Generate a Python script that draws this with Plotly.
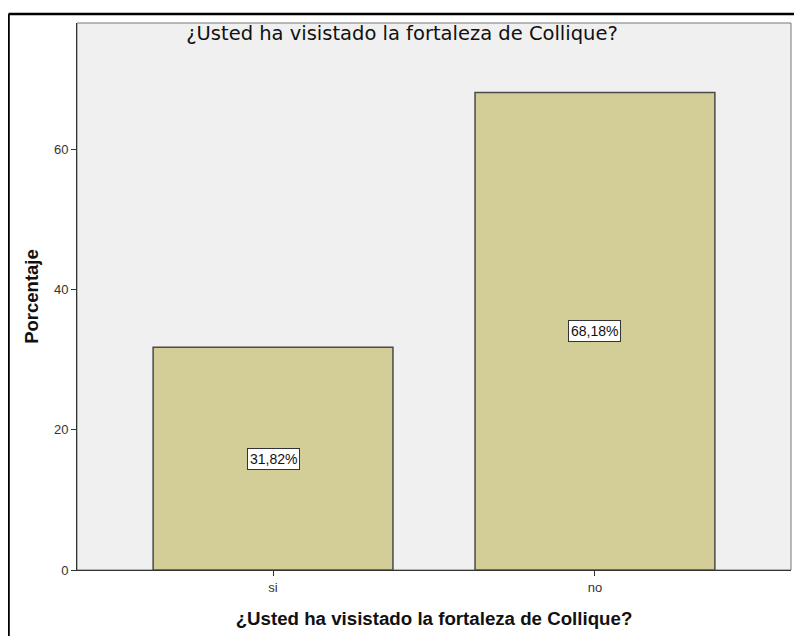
import plotly.graph_objects as go

# Data
categories = ["si", "no"]
percentages = [31.82, 68.18]
value_labels = ["31,82%", "68,18%"]
y_ticks = [0, 20, 40, 60]

question = "¿Usted ha visistado la fortaleza de Collique?"

fig = go.Figure()
fig.add_trace(go.Bar(
    x=categories,
    y=percentages,
    width=0.745,
    marker=dict(color="#d3ce98", line=dict(color="#4a4a4a", width=1.5)),
    hoverinfo="skip",
    showlegend=False
))

# Boxed value labels in the middle of each bar
for cat, val, lab in zip(categories, percentages, value_labels):
    fig.add_annotation(
        x=cat, y=val / 2, text=lab, showarrow=False,
        font=dict(family="Liberation Sans, Arial", size=14, color="#111111"),
        bgcolor="white", bordercolor="#333333", borderwidth=1, borderpad=2
    )

# the page body adds an 8px offset, so margins are shifted to compensate
fig.update_layout(
    width=802,
    height=636,
    margin=dict(l=69, r=19, t=15, b=74),
    paper_bgcolor="white",
    plot_bgcolor="#f0f0f0",
    font=dict(family="Liberation Sans, Arial", color="#222222"),
    title=dict(
        text=question, x=0.4913, xanchor="center", y=0.9607, yanchor="middle",
        font=dict(family="DejaVu Sans", size=19.5, color="#111111")
    ),
    xaxis=dict(
        range=[-0.609, 1.609],
        showline=True, linecolor="#333333", linewidth=1,
        ticks="outside", ticklen=5, tickcolor="#333333",
        tickfont=dict(size=13, color="#333333"),
        title=dict(text="<b>" + question + "</b>", font=dict(size=18.7, color="#111111"), standoff=18),
        showgrid=False, zeroline=False
    ),
    yaxis=dict(
        range=[0, 78.1],
        tickvals=y_ticks,
        showline=True, linecolor="#333333", linewidth=1,
        ticks="outside", ticklen=5, tickcolor="#333333",
        tickfont=dict(size=13, color="#333333"),
        title=dict(text="<b>Porcentaje</b>", font=dict(size=18.5, color="#111111"), standoff=10),
        showgrid=False, zeroline=False
    ),
    shapes=[
        # frame around plot area (top/right)
        dict(type="rect", xref="paper", yref="paper", x0=0, x1=1, y0=0, y1=1,
             line=dict(color="#777777", width=1), layer="below"),
        # outer black border of the chart image (top and left edges)
        dict(type="line", xref="paper", yref="paper", x0=-0.0959, x1=1.014, y0=1.0165, y1=1.0165,
             line=dict(color="black", width=2.5)),
        dict(type="line", xref="paper", yref="paper", x0=-0.0959, x1=-0.0959, y0=-0.13, y1=1.0165,
             line=dict(color="black", width=2.5))
    ]
)

fig.write_html("out.html")
